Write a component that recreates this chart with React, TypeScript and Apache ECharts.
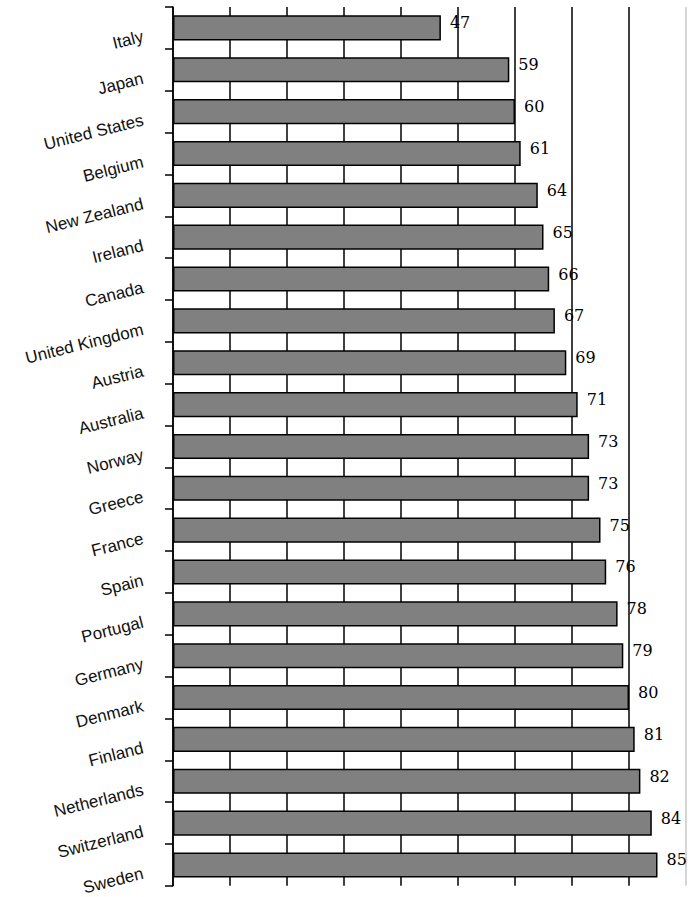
import React, { useEffect, useRef } from "react";
import * as echarts from "echarts";

const categories = [
  "Italy", "Japan", "United States", "Belgium", "New Zealand", "Ireland", "Canada",
  "United Kingdom", "Austria", "Australia", "Norway", "Greece", "France", "Spain",
  "Portugal", "Germany", "Denmark", "Finland", "Netherlands", "Switzerland", "Sweden",
];
const values = [47, 59, 60, 61, 64, 65, 66, 67, 69, 71, 73, 73, 75, 76, 78, 79, 80, 81, 82, 84, 85];
const axisMin = 0;
const axisMax = 90;
const axisStep = 10;

export default function App() {
  const ref = useRef<HTMLDivElement>(null);
  useEffect(() => {
    if (!ref.current) return;
    const chart = echarts.init(ref.current, undefined, { renderer: "svg" });
    const gridColors = Array.from({ length: 10 }, (_, i) => (i === 9 ? "#c8c8c8" : "#000000"));
    chart.setOption({
      animation: false,
      backgroundColor: "#ffffff",
      grid: { left: 173, right: 9, top: 7, bottom: 10, containLabel: false },
      xAxis: {
        type: "value",
        min: axisMin,
        max: axisMax,
        interval: axisStep,
        axisLine: { show: false },
        axisTick: { show: false },
        axisLabel: { show: false },
        splitLine: { show: true, lineStyle: { color: gridColors, width: 1.5 } },
      },
      yAxis: {
        type: "category",
        data: categories,
        inverse: true,
        axisLine: { show: true, lineStyle: { color: "#000", width: 1.5 } },
        axisTick: { show: true, inside: false, length: 8, lineStyle: { color: "#000", width: 1.5 } },
        axisLabel: {
          rotate: 14,
          margin: 32,
          color: "#111",
          fontFamily: "Liberation Sans Narrow, Liberation Sans, Arial, sans-serif",
          fontSize: 17,
          verticalAlign: "top",
        },
      },
      series: [
        {
          type: "bar",
          data: values,
          barCategoryGap: "40%",
          itemStyle: { color: "#808080", borderColor: "#000", borderWidth: 1.5 },
          label: {
            show: true,
            position: "right",
            distance: 9,
            offset: [0, -5],
            color: "#000",
            fontFamily: "DejaVu Serif, serif",
            fontSize: 16,
          },
        },
      ],
    });
    return () => chart.dispose();
  }, []);
  return (
    <div
      ref={ref}
      style={{ position: "fixed", left: 0, top: 0, width: 695, height: 897 }}
    />
  );
}
